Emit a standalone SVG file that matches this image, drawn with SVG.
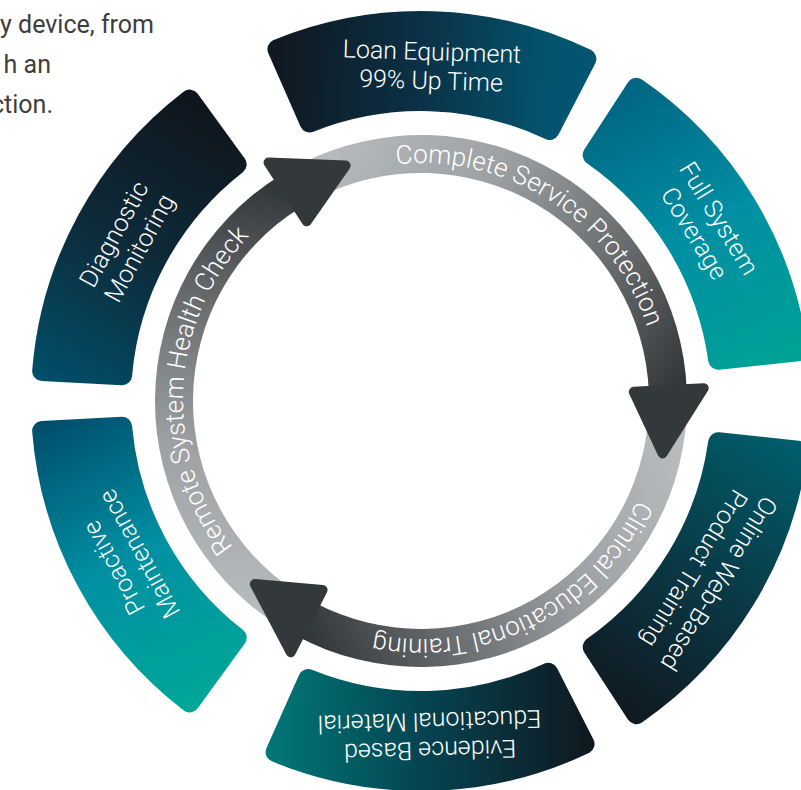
<svg xmlns="http://www.w3.org/2000/svg" width="801" height="790" viewBox="0 0 801 790">
<style>
  .seg use { stroke-width: 20; stroke-linejoin: round; }
  .seg text { font-family: Roboto, "Liberation Sans", sans-serif; font-weight: 300; font-size: 25px; fill: #ffffff; text-anchor: middle; }
  .ringlabel { font-family: Roboto, "Liberation Sans", sans-serif; font-weight: 300; font-size: 26px; fill: #ffffff; text-anchor: middle; }
  .head { fill: #33383a; stroke: #33383a; stroke-width: 10; stroke-linejoin: round; }
  .para { font-family: Roboto, "Liberation Sans", sans-serif; font-weight: 400; font-size: 25px; fill: #3d3d3d; text-anchor: end; }
</style>
<defs>
  <path id="segshape" d="M -154.51,-347.17 A 380 380 0 0 1 154.51,-347.17 L 120.06,-274.93 A 300 300 0 0 0 -120.06,-274.93 Z"/>
  <linearGradient id="gLoan" gradientUnits="userSpaceOnUse" x1="-170" y1="-320" x2="170" y2="-310">
    <stop offset="0" stop-color="#10161d"/><stop offset="0.45" stop-color="#0b3045"/><stop offset="0.85" stop-color="#03546e"/><stop offset="1" stop-color="#045670"/>
  </linearGradient>
  <linearGradient id="gFull" gradientUnits="userSpaceOnUse" x1="-170" y1="-320" x2="170" y2="-310">
    <stop offset="0" stop-color="#006381"/><stop offset="0.5" stop-color="#008fa3"/><stop offset="1" stop-color="#00a394"/>
  </linearGradient>
  <linearGradient id="gOnline" gradientUnits="userSpaceOnUse" x1="-170" y1="-320" x2="170" y2="-310">
    <stop offset="0" stop-color="#005f6e"/><stop offset="0.55" stop-color="#0a3642"/><stop offset="1" stop-color="#11171e"/>
  </linearGradient>
  <linearGradient id="gEvid" gradientUnits="userSpaceOnUse" x1="-170" y1="-320" x2="170" y2="-310">
    <stop offset="0" stop-color="#10161d"/><stop offset="0.5" stop-color="#05424f"/><stop offset="1" stop-color="#007a79"/>
  </linearGradient>
  <linearGradient id="gPro" gradientUnits="userSpaceOnUse" x1="-170" y1="-320" x2="170" y2="-310">
    <stop offset="0" stop-color="#00a897"/><stop offset="0.5" stop-color="#0090a3"/><stop offset="1" stop-color="#004a68"/>
  </linearGradient>
  <linearGradient id="gDiag" gradientUnits="userSpaceOnUse" x1="-170" y1="-320" x2="170" y2="-310">
    <stop offset="0" stop-color="#00506b"/><stop offset="0.5" stop-color="#0e2a39"/><stop offset="1" stop-color="#0f141b"/>
  </linearGradient>
  <linearGradient id="gA1" gradientUnits="userSpaceOnUse" x1="320" y1="150" x2="668" y2="400">
    <stop offset="0" stop-color="#b8bbbd"/><stop offset="0.35" stop-color="#9fa2a4"/><stop offset="0.7" stop-color="#6a6d70"/><stop offset="1" stop-color="#33373a"/>
  </linearGradient>
  <linearGradient id="gA2" gradientUnits="userSpaceOnUse" x1="668" y1="440" x2="305" y2="625">
    <stop offset="0" stop-color="#b8bbbd"/><stop offset="0.35" stop-color="#9fa2a4"/><stop offset="0.7" stop-color="#6a6d70"/><stop offset="1" stop-color="#33373a"/>
  </linearGradient>
  <linearGradient id="gA3" gradientUnits="userSpaceOnUse" x1="225" y1="605" x2="290" y2="190">
    <stop offset="0" stop-color="#b8bbbd"/><stop offset="0.35" stop-color="#9fa2a4"/><stop offset="0.7" stop-color="#6a6d70"/><stop offset="1" stop-color="#33373a"/>
  </linearGradient>
  <path id="tp1" d="M 312.95,188.94 A 238 238 0 0 1 658.67,413.46"/>
  <path id="tp2" d="M 658.67,413.46 A 238 238 0 0 1 291.38,600.60"/>
  <path id="tp3" d="M 291.38,600.60 A 238 238 0 0 1 312.95,188.94"/>
</defs>

<rect x="0" y="0" width="801" height="790" fill="#ffffff"/>

<g id="intro-text">
  <text class="para" x="154" y="33">y device, from</text>
  <text class="para" x="51" y="73">h an</text>
  <text class="para" x="53" y="113">ction.</text>
</g>

<g id="loan-equipment" class="seg" transform="translate(421 401) rotate(1.8)">
  <use href="#segshape" fill="url(#gLoan)" stroke="url(#gLoan)"/>
  <text x="0" y="-341">Loan Equipment</text>
  <text x="0" y="-312">99% Up Time</text>
</g>
<g id="full-system-coverage" class="seg" transform="translate(421 401) rotate(58.5)">
  <use href="#segshape" fill="url(#gFull)" stroke="url(#gFull)"/>
  <text x="0" y="-341">Full System</text>
  <text x="0" y="-312">Coverage</text>
</g>
<g id="online-web-based-product-training" class="seg" transform="translate(421 401) rotate(121.5)">
  <use href="#segshape" fill="url(#gOnline)" stroke="url(#gOnline)"/>
  <text x="0" y="-341">Online Web-Based</text>
  <text x="0" y="-312">Product Training</text>
</g>
<g id="evidence-based-material" class="seg" transform="translate(421 401) rotate(178.5)">
  <use href="#segshape" fill="url(#gEvid)" stroke="url(#gEvid)"/>
  <text x="0" y="-341">Evidence Based</text>
  <text x="0" y="-312">Educational Material</text>
</g>
<g id="proactive-maintenance" class="seg" transform="translate(421 401) rotate(241.5)">
  <use href="#segshape" fill="url(#gPro)" stroke="url(#gPro)"/>
  <text x="0" y="-341">Proactive</text>
  <text x="0" y="-312">Maintenance</text>
</g>
<g id="diagnostic-monitoring" class="seg" transform="translate(421 401) rotate(298.5)">
  <use href="#segshape" fill="url(#gDiag)" stroke="url(#gDiag)"/>
  <text x="0" y="-341">Diagnostic</text>
  <text x="0" y="-312">Monitoring</text>
</g>

<g id="connectors">
  <path id="arc-complete-service" d="M 300.24,163.99 A 266 266 0 0 1 686.84,391.72 L 648.86,393.04 A 228 228 0 0 0 317.49,197.85 Z" fill="url(#gA1)"/>
  <path id="arc-clinical-training" d="M 686.64,414.92 A 266 266 0 0 1 296.12,635.86 L 313.96,602.31 A 228 228 0 0 0 648.69,412.93 Z" fill="url(#gA2)"/>
  <path id="arc-remote-check" d="M 276.13,624.09 A 266 266 0 0 1 280.04,175.42 L 300.18,207.64 A 228 228 0 0 0 296.82,592.22 Z" fill="url(#gA3)"/>
  <polygon class="head" points="2,-283 2,-213 65,-238.5" transform="translate(421 401) rotate(87)"/>
  <polygon class="head" points="2,-283 2,-213 65,-238.5" transform="translate(421 401) rotate(207)"/>
  <polygon class="head" points="2,-283 2,-213 65,-238.5" transform="translate(421 401) rotate(327)"/>
  <text class="ringlabel"><textPath href="#tp1" startOffset="50%">Complete Service Protection</textPath></text>
  <text class="ringlabel"><textPath href="#tp2" startOffset="50%">Clinical Educational Training</textPath></text>
  <text class="ringlabel"><textPath href="#tp3" startOffset="50%">Remote System Health Check</textPath></text>
</g>
</svg>
